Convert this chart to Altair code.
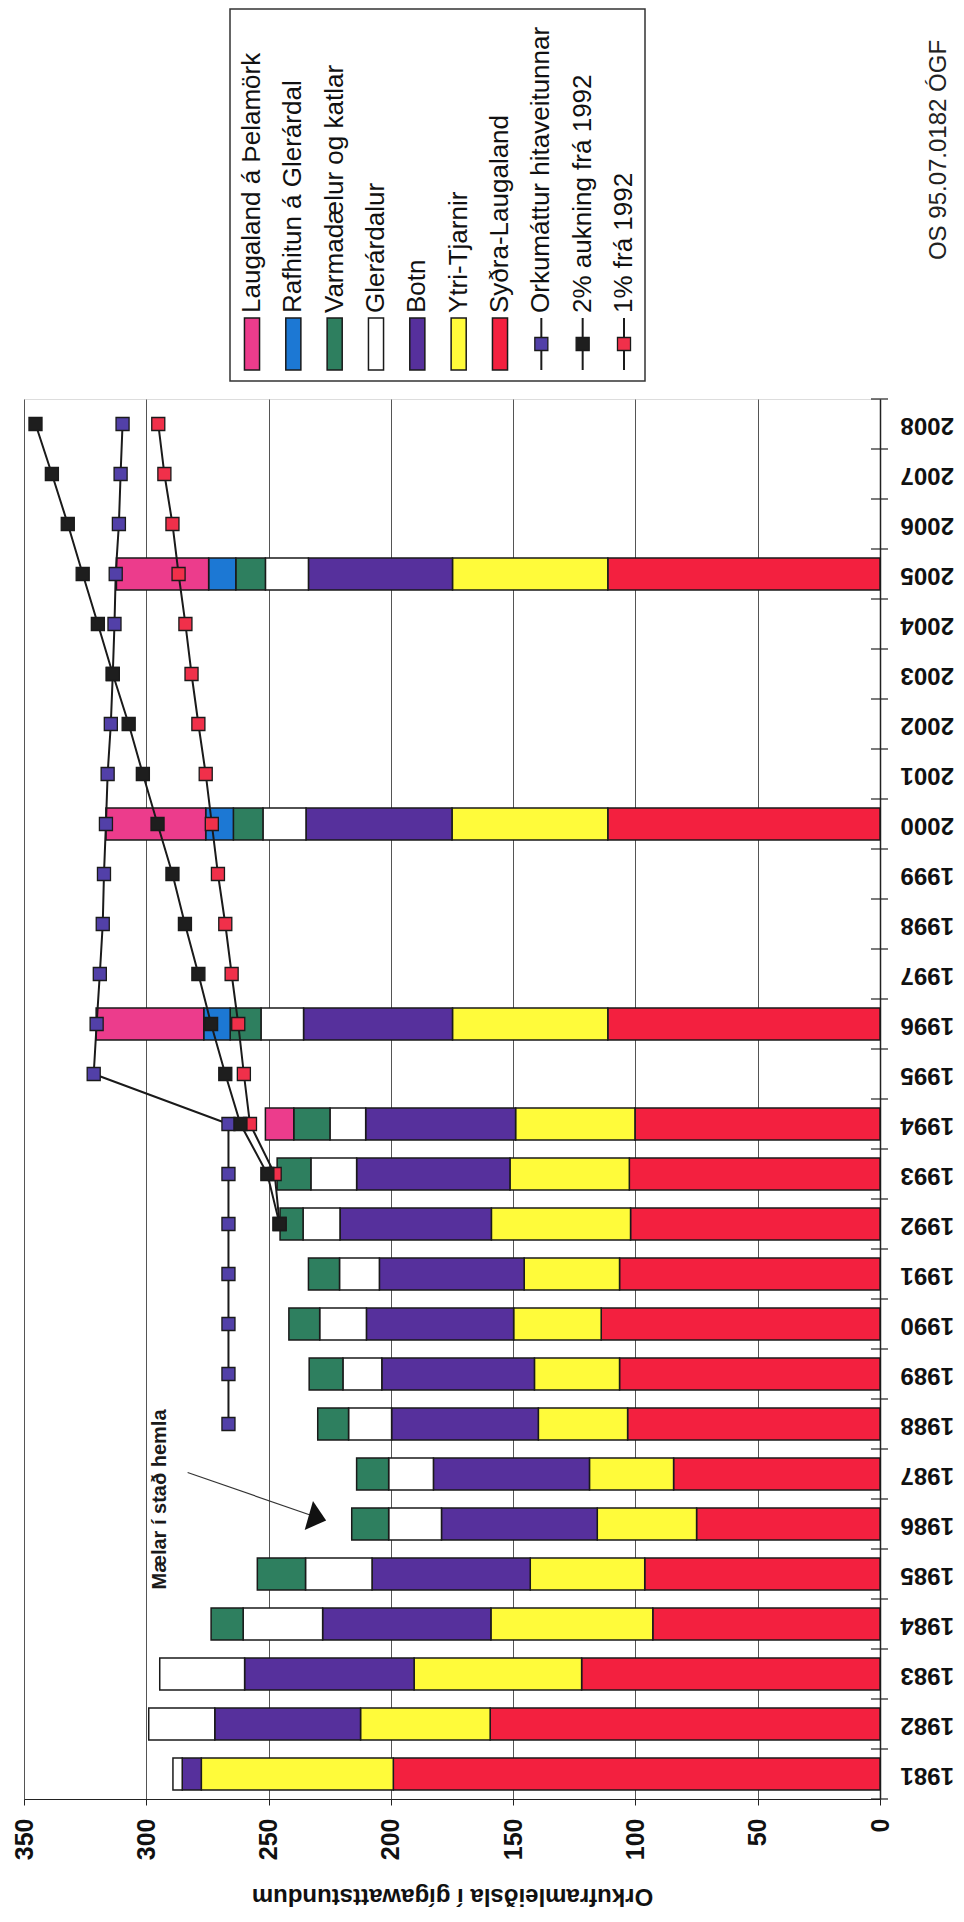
import altair as alt
import pandas as pd

# ---------------- data ----------------
years = list(range(1981, 2009))
bar_years = [1981, 1982, 1983, 1984, 1985, 1986, 1987, 1988, 1989, 1990,
             1991, 1992, 1993, 1994, 1996, 2000, 2005]

series_names = ["Syðra-Laugaland", "Ytri-Tjarnir", "Botn", "Glerárdalur",
                "Varmadælur og katlar", "Rafhitun á Glerárdal", "Laugaland á Þelamörk"]
series_colors = ["#F3203F", "#FFFB3A", "#56309C", "#FFFFFF",
                 "#2E7F5F", "#1C78D4", "#EC3C8C"]

sydra_laugaland = [199.0, 159.4, 122.0, 92.9, 96.2, 75.0, 84.4, 103.2, 106.5, 114.0,
                   106.5, 102.0, 102.5, 100.2, 111.3, 111.3, 111.3]
ytri_tjarnir = [78.5, 53.0, 68.5, 66.2, 46.8, 40.6, 34.4, 36.5, 34.8, 35.8,
                39.0, 56.9, 48.8, 48.8, 63.5, 63.7, 63.5]
botn = [7.8, 59.6, 69.3, 68.8, 64.7, 63.7, 63.8, 60.0, 62.4, 60.2,
        59.2, 61.9, 62.7, 61.3, 60.9, 59.7, 58.9]
glerardalur = [3.8, 27.0, 34.7, 32.5, 27.2, 21.6, 18.3, 17.6, 15.9, 19.1,
               16.3, 15.1, 18.7, 14.6, 17.4, 17.6, 17.6]
varmadaelur = [0.0, 0.0, 0.0, 13.1, 19.7, 15.1, 13.1, 12.6, 13.8, 12.6,
               12.7, 9.4, 13.8, 14.8, 12.6, 12.1, 12.1]
rafhitun = [0.0, 0.0, 0.0, 0.0, 0.0, 0.0, 0.0, 0.0, 0.0, 0.0,
            0.0, 0.0, 0.0, 0.0, 10.8, 11.3, 11.1]
laugaland = [0.0, 0.0, 0.0, 0.0, 0.0, 0.0, 0.0, 0.0, 0.0, 0.0,
             0.0, 0.0, 0.0, 11.6, 44.0, 40.8, 37.7]

line_names = ["Orkumáttur hitaveitunnar", "1% frá 1992", "2% aukning frá 1992"]
line_colors = ["#5240A8", "#F0304A", "#1E1E1E"]
orku_years = [1988, 1989, 1990, 1991, 1992, 1993, 1994, 1995, 1996, 1997, 1998,
              1999, 2000, 2001, 2002, 2003, 2004, 2005, 2006, 2007, 2008]
orkumattur = [266.4, 266.4, 266.4, 266.4, 266.4, 266.4, 266.4, 321.5, 320.3, 319.0, 317.8,
              317.3, 316.5, 315.8, 314.5, 313.7, 313.0, 312.5, 311.2, 310.5, 309.7]
growth_years = [1992, 1993, 1994, 1995, 1996, 1997, 1998, 1999, 2000,
                2001, 2002, 2003, 2004, 2005, 2006, 2007, 2008]
eitt_prosent = [245.5, 247.5, 257.6, 260.1, 262.4, 265.1, 267.7, 270.7, 273.2,
                275.7, 278.7, 281.5, 284.0, 286.8, 289.3, 292.6, 295.1]
tvo_prosent = [245.5, 250.5, 261.5, 267.7, 273.5, 278.7, 284.2, 289.3, 295.4,
               301.4, 307.2, 313.7, 319.8, 326.0, 332.1, 338.6, 345.3]

x_ticks = [0, 50, 100, 150, 200, 250, 300, 350]

legend_names = ["Laugaland á Þelamörk", "Rafhitun á Glerárdal", "Varmadælur og katlar",
                "Glerárdalur", "Botn", "Ytri-Tjarnir", "Syðra-Laugaland",
                "Orkumáttur hitaveitunnar", "2% aukning frá 1992", "1% frá 1992"]
legend_colors = ["#EC3C8C", "#1C78D4", "#2E7F5F", "#FFFFFF", "#56309C", "#FFFB3A",
                 "#F3203F", "#5240A8", "#1E1E1E", "#F0304A"]
legend_kinds = ["bar", "bar", "bar", "bar", "bar", "bar", "bar", "line", "line", "line"]

annotation_text = "Mælar í stað hemla"
annotation_pos = [294.4, 1986.49]
arrow_start = [283.1, 1987.03]
arrow_end = [233.0, 1986.18]
arrow_head = [230.0, 1986.12]
doc_id = "OS 95.07.0182 ÓGF"

# ---------------- tables ----------------
series_values = [sydra_laugaland, ytri_tjarnir, botn, glerardalur,
                 varmadaelur, rafhitun, laugaland]
rows = []
for k, (name, vals, col) in enumerate(zip(series_names, series_values, series_colors)):
    for yr, v in zip(bar_years, vals):
        if v > 0:
            rows.append({"year": yr, "series": name, "value": v, "order": k, "color": col})
bars_df = pd.DataFrame(rows)

lrows = []
for name, col, yrs, vals in zip(line_names, line_colors,
                                [orku_years, growth_years, growth_years],
                                [orkumattur, eitt_prosent, tvo_prosent]):
    for yr, v in zip(yrs, vals):
        lrows.append({"series": name, "year": yr, "value": v, "color": col})
lines_df = pd.DataFrame(lrows)

bounds_df = pd.DataFrame({"b": [yr - 0.5 for yr in years] + [years[-1] + 0.5]})
ann_df = pd.DataFrame({"text": [annotation_text], "value": [annotation_pos[0]],
                       "year": [annotation_pos[1]]})
arrow_df = pd.DataFrame({"v1": [arrow_start[0]], "y1": [arrow_start[1]],
                         "v2": [arrow_end[0]], "y2": [arrow_end[1]],
                         "hv": [arrow_head[0]], "hy": [arrow_head[1]]})
legend_df = pd.DataFrame({"name": legend_names, "color": legend_colors, "kind": legend_kinds})
one_df = pd.DataFrame({"text": [doc_id]})

# ---------------- scales & axes ----------------
FONT = "Liberation Sans"
XS = alt.Scale(domain=[0, 350], reverse=True, nice=False, zero=True)
YS = alt.Scale(domain=[1980.5, 2008.5], nice=False, zero=False)

x_axis = alt.Axis(values=x_ticks, grid=True, gridColor="#555555", gridWidth=1,
                  domainColor="#222222", domainWidth=1.2, tickColor="#222222", tickSize=6,
                  labelAngle=270, labelAlign="right", labelBaseline="middle",
                  labelPadding=13, labelFontSize=25, labelFontWeight="bold",
                  labelColor="#111111", labelFlush=False, labelOverlap=False, format="d",
                  title="Orkuframleiðsla í gígawattstundum", titleAngle=180,
                  titleFontSize=24, titleFontWeight="bold", titleColor="#111111",
                  titleX=428, titleY=96, titleAlign="center", titleBaseline="middle")
y_axis = alt.Axis(orient="right", values=years, ticks=False, tickSize=0, grid=False,
                  domainColor="#222222", domainWidth=1.5, labelAngle=180,
                  labelAlign="right", labelBaseline="middle", labelPadding=20,
                  labelFontSize=24, labelFontWeight="bold", labelColor="#111111",
                  format="d", labelFlush=False, labelOverlap=False, title=None)

# ---------------- main layers ----------------
bars = alt.Chart(bars_df).transform_window(
    end="sum(value)", groupby=["year"],
    sort=[alt.SortField("order", order="ascending")], frame=[None, 0]
).transform_calculate(
    start="datum.end - datum.value",
    y0="datum.year - 0.32",
    y1="datum.year + 0.32",
).mark_rect(stroke="#1a1a1a", strokeWidth=1.5).encode(
    x=alt.X("start:Q", scale=XS, axis=x_axis),
    x2="end:Q",
    y=alt.Y("y0:Q", scale=YS, axis=y_axis),
    y2="y1:Q",
    fill=alt.Fill("color:N", scale=None),
)

year_ticks = alt.Chart(bounds_df).mark_rule(color="#222222", strokeWidth=1.2).encode(
    y=alt.Y("b:Q", scale=YS, axis=y_axis),
    x=alt.value(847), x2=alt.value(864),
)

lines = alt.Chart(lines_df).mark_line(color="#1a1a1a", strokeWidth=2).encode(
    x=alt.X("value:Q", scale=XS, axis=x_axis),
    y=alt.Y("year:Q", scale=YS, axis=y_axis),
    detail="series:N",
    order="year:Q",
)
points = alt.Chart(lines_df).mark_point(shape="square", filled=True, size=170,
                                        stroke="#1a1a1a", strokeWidth=1.3, opacity=1).encode(
    x=alt.X("value:Q", scale=XS, axis=x_axis),
    y=alt.Y("year:Q", scale=YS, axis=y_axis),
    fill=alt.Fill("color:N", scale=None),
)

ann = alt.Chart(ann_df).mark_text(angle=270, fontSize=20, fontWeight="bold", align="center",
                                  baseline="middle", color="#1a1a1a").encode(
    x=alt.X("value:Q", scale=XS, axis=x_axis),
    y=alt.Y("year:Q", scale=YS, axis=y_axis),
    text="text:N",
)
arrow_line = alt.Chart(arrow_df).mark_rule(color="#333333", strokeWidth=1.2).encode(
    x=alt.X("v1:Q", scale=XS, axis=x_axis), x2="v2:Q",
    y=alt.Y("y1:Q", scale=YS, axis=y_axis), y2="y2:Q",
)
arrow_tip = alt.Chart(arrow_df).mark_point(shape="M 0.6,0 L -0.6,-1 L -0.6,1 Z", size=900,
                                           angle=16, filled=True, color="#111111",
                                           opacity=1).encode(
    x=alt.X("hv:Q", scale=XS, axis=x_axis),
    y=alt.Y("hy:Q", scale=YS, axis=y_axis),
)

main = alt.layer(bars, year_ticks, arrow_line, arrow_tip, ann, lines, points)

# ---------------- legend ----------------
LX = alt.Scale(type="point", domain=legend_names, range=[228, 600], padding=0)
box = alt.Chart(one_df).mark_rect(fill="white", stroke="#333333", strokeWidth=1.5).encode(
    x=alt.value(206), x2=alt.value(621), y=alt.value(-390), y2=alt.value(-18))
swatches = alt.Chart(legend_df).transform_filter("datum.kind == 'bar'").mark_point(
    shape="M -0.29,-1 L 0.29,-1 L 0.29,1 L -0.29,1 Z", size=2704, filled=True,
    stroke="#1a1a1a", strokeWidth=1.5, opacity=1).encode(
    x=alt.X("name:N", scale=LX, axis=None), y=alt.value(-55),
    fill=alt.Fill("color:N", scale=None))
leg_rules = alt.Chart(legend_df).transform_filter("datum.kind == 'line'").mark_rule(
    color="#1a1a1a", strokeWidth=2).encode(
    x=alt.X("name:N", scale=LX, axis=None), y=alt.value(-81), y2=alt.value(-29))
leg_points = alt.Chart(legend_df).transform_filter("datum.kind == 'line'").mark_point(
    shape="square", filled=True, size=170, stroke="#1a1a1a", strokeWidth=1.3, opacity=1).encode(
    x=alt.X("name:N", scale=LX, axis=None), y=alt.value(-55),
    fill=alt.Fill("color:N", scale=None))
leg_text = alt.Chart(legend_df).mark_text(angle=270, align="left", baseline="middle",
                                          fontSize=26, color="#111111").encode(
    x=alt.X("name:N", scale=LX, axis=None), y=alt.value(-86), text="name:N")
os_text = alt.Chart(one_df).mark_text(angle=270, align="center", baseline="middle",
                                      fontSize=24, color="#222222").encode(
    x=alt.value(915), y=alt.value(-249), text="text:N")

legend = alt.layer(box, swatches, leg_rules, leg_points, leg_text, os_text)

chart = alt.layer(main, legend).resolve_scale(x="independent").properties(
    width=856, height=1400,
    autosize=alt.AutoSizeParams(type="none"),
    padding={"left": 16, "top": 391, "right": 76, "bottom": 112},
).configure_view(stroke=None).configure(font=FONT)

chart.save("out.html", embed_options={"renderer": "svg", "actions": False})
